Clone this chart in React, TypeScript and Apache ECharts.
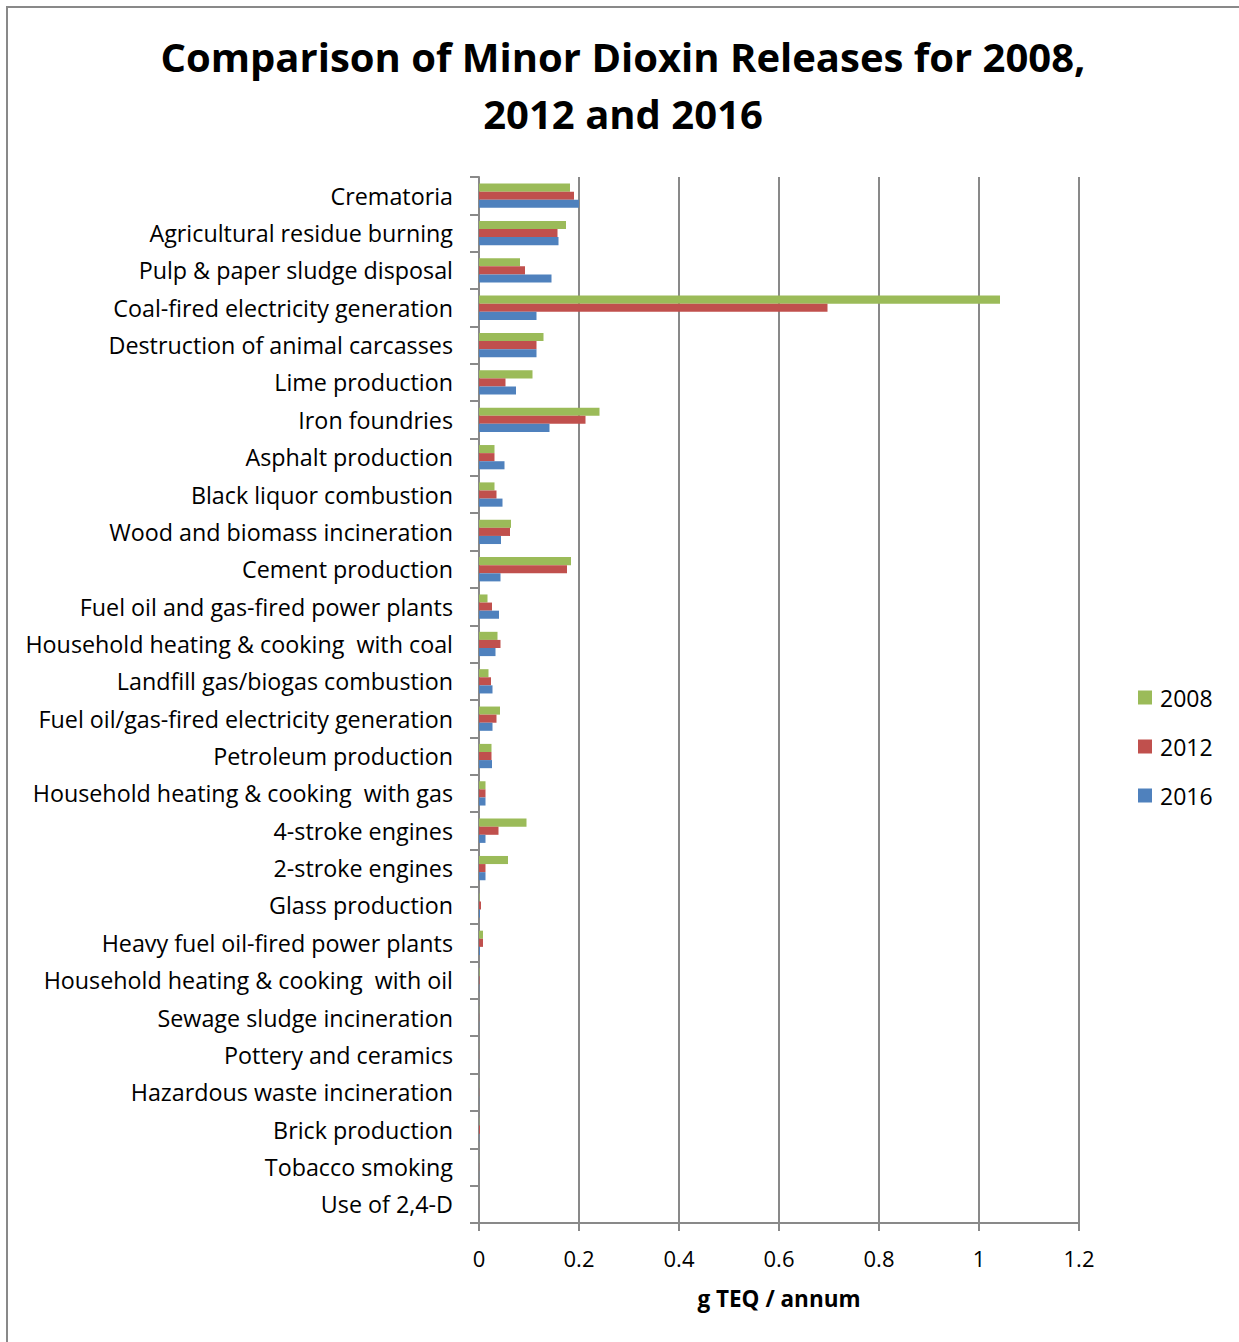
import React, { useEffect, useRef } from "react";
import * as echarts from "echarts";

// Source categories, top to bottom
const categories = [
  "Crematoria",
  "Agricultural residue burning",
  "Pulp & paper sludge disposal",
  "Coal-fired electricity generation",
  "Destruction of animal carcasses",
  "Lime production",
  "Iron foundries",
  "Asphalt production",
  "Black liquor combustion",
  "Wood and biomass incineration",
  "Cement production",
  "Fuel oil and gas-fired power plants",
  "Household heating & cooking  with coal",
  "Landfill gas/biogas combustion",
  "Fuel oil/gas-fired electricity generation",
  "Petroleum production",
  "Household heating & cooking  with gas",
  "4-stroke engines",
  "2-stroke engines",
  "Glass production",
  "Heavy fuel oil-fired power plants",
  "Household heating & cooking  with oil",
  "Sewage sludge incineration",
  "Pottery and ceramics",
  "Hazardous waste incineration",
  "Brick production",
  "Tobacco smoking",
  "Use of 2,4-D",
];

// Releases in g TEQ per annum
const releases2008 = [
  0.182, 0.174, 0.082, 1.042, 0.129, 0.107, 0.241, 0.031, 0.031, 0.064,
  0.184, 0.017, 0.037, 0.019, 0.042, 0.025, 0.013, 0.095, 0.058, 0.001,
  0.008, 0.001, 0.0003, 0.0002, 0.0003, 0.0005, 0.0002, 0.0001,
];
const releases2012 = [
  0.19, 0.157, 0.092, 0.697, 0.115, 0.053, 0.213, 0.031, 0.035, 0.062,
  0.176, 0.026, 0.043, 0.024, 0.035, 0.025, 0.013, 0.039, 0.013, 0.004,
  0.008, 0.001, 0.0003, 0.0002, 0.0003, 0.002, 0.0002, 0.0001,
];
const releases2016 = [
  0.2, 0.159, 0.145, 0.115, 0.115, 0.074, 0.141, 0.051, 0.047, 0.044,
  0.043, 0.04, 0.033, 0.027, 0.027, 0.026, 0.013, 0.013, 0.013, 0.002,
  0.002, 0.0005, 0.0003, 0.0002, 0.0003, 0.0005, 0.0002, 0.0001,
];

const seriesNames = ["2008", "2012", "2016"];
const seriesColors = ["#9BBB59", "#C0504D", "#4F81BD"];
const xTicks = { min: 0, max: 1.2, interval: 0.2 };

const FONT = "'Open Sans', Lato, sans-serif";
const GRID_GRAY = "#898989";

export default function App() {
  const ref = useRef<HTMLDivElement>(null);

  useEffect(() => {
    document.body.style.margin = "0";
    if (!ref.current) return;
    const chart = echarts.init(ref.current, null, { renderer: "svg" });
    const values = [releases2008, releases2012, releases2016];

    chart.setOption({
      animation: false,
      backgroundColor: "#ffffff",
      textStyle: { fontFamily: FONT },
      graphic: [
        {
          type: "polyline",
          shape: { points: [[7, 1342], [7, 7], [1239, 7]] },
          style: { stroke: GRID_GRAY, lineWidth: 2, fill: "none" },
        },
        {
          type: "text",
          x: 623,
          y: 85,
          style: {
            text: "Comparison of Minor Dioxin Releases for 2008,\n2012 and 2016",
            font: `bold 40px ${FONT}`,
            fill: "#000000",
            align: "center",
            verticalAlign: "middle",
            lineHeight: 57,
          },
        },
      ],
      legend: {
        orient: "vertical",
        left: 1138,
        top: 686,
        padding: 0,
        itemWidth: 14,
        itemHeight: 14,
        itemGap: 26,
        icon: "rect",
        data: seriesNames,
        textStyle: { fontSize: 23, color: "#000", fontFamily: FONT, padding: [0, 0, 0, 3] },
      },
      grid: { left: 479, right: 160, top: 177, bottom: 119, containLabel: false },
      xAxis: {
        type: "value",
        min: xTicks.min,
        max: xTicks.max,
        interval: xTicks.interval,
        name: "g TEQ / annum",
        nameLocation: "middle",
        nameGap: 64,
        nameTextStyle: { fontSize: 22.5, fontWeight: "bold", color: "#000", fontFamily: FONT },
        axisLine: { show: true, lineStyle: { color: GRID_GRAY, width: 2 } },
        axisTick: { show: true, length: 8, lineStyle: { color: GRID_GRAY, width: 2 } },
        axisLabel: {
          fontSize: 22,
          color: "#000",
          margin: 24,
          fontFamily: FONT,
          formatter: (v: number) => String(Math.round(v * 10) / 10),
        },
        splitLine: { show: true, lineStyle: { color: GRID_GRAY, width: 2 } },
      },
      yAxis: {
        type: "category",
        inverse: true,
        data: categories,
        axisLine: { show: true, lineStyle: { color: GRID_GRAY, width: 2 } },
        axisTick: { show: true, length: 9, interval: 0, lineStyle: { color: GRID_GRAY, width: 2 } },
        axisLabel: { fontSize: 23.3, color: "#000", margin: 26, interval: 0, fontFamily: FONT },
        splitLine: { show: false },
      },
      series: seriesNames.map((name, i) => ({
        name,
        type: "bar",
        data: values[i],
        itemStyle: { color: seriesColors[i] },
        barGap: "0%",
        barCategoryGap: "35%",
      })),
    });

    return () => chart.dispose();
  }, []);

  return <div ref={ref} style={{ width: 1239, height: 1342 }} />;
}
